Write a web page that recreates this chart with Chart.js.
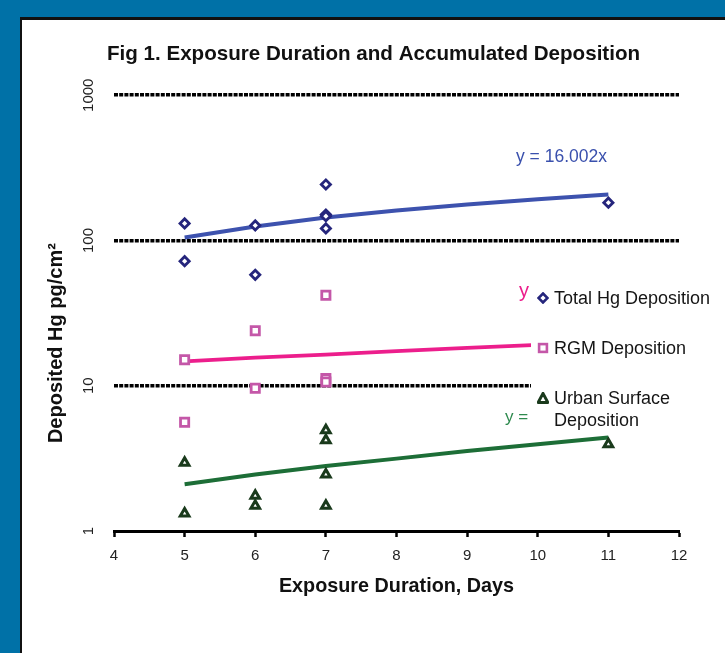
<!DOCTYPE html>
<html>
<head>
<meta charset="utf-8">
<script src="https://cdn.jsdelivr.net/npm/chart.js@4.4.1/dist/chart.umd.min.js"></script>
<style>
html,body{margin:0;padding:0;width:725px;height:653px;overflow:hidden;background:#0071a7;font-family:"Liberation Sans",Arial,sans-serif;}
#panel{position:absolute;left:20px;top:17px;width:705px;height:636px;background:#fff;border-left:2px solid #111;border-top:3px solid #111;box-sizing:border-box;}
#c{position:absolute;left:0;top:0;}
.eq{position:absolute;white-space:nowrap;line-height:1;font-family:"Liberation Sans",Arial,sans-serif;}
#legend{position:absolute;left:531px;top:283px;width:192px;height:150px;background:#fff;}
.item{position:absolute;left:0;width:192px;font-size:18px;line-height:22px;color:#151515;}
.item svg{position:absolute;left:6px;top:5px;}
.item span{position:absolute;left:23px;top:0;white-space:nowrap;}
</style>
</head>
<body>
<div id="panel"></div>
<canvas id="c" width="725" height="653"></canvas>
<div class="eq" style="left:516px;top:148px;font-size:17.5px;color:#3a50ad;">y = 16.002x</div>
<div class="eq" style="left:519px;top:280px;font-size:20px;color:#ec1e8c;">y</div>
<div class="eq" style="left:505px;top:408px;font-size:17px;color:#2e8a4e;">y =</div>
<div id="legend"></div>
<script>
// ---- data ----
const titleText = "Fig 1. Exposure Duration and Accumulated Deposition";
const xTitle = "Exposure Duration, Days";
const yTitle = "Deposited Hg pg/cm\u00B2";
const xTickMin = 4;
const xTickMax = 12;
const yTickValues = [1, 10, 100, 1000];

const totalX = [5, 5, 6, 6, 7, 7, 7, 7, 11];
const totalY = [131, 72, 127, 58, 243, 151, 147, 121, 182];

const rgmX = [5, 5, 6, 6, 7, 7, 7];
const rgmY = [15.1, 5.6, 23.9, 9.6, 42, 11.2, 10.6];

const urbanX = [5, 5, 6, 6, 7, 7, 7, 7, 11];
const urbanY = [2.95, 1.32, 1.75, 1.49, 4.94, 4.22, 2.45, 1.49, 3.96];

const trendX = [5, 6, 7, 8, 9, 10, 11];
const totalTrend = [105, 125, 144, 161, 177, 192, 207];
const rgmTrend = [14.7, 15.6, 16.4, 17.3, 18.2, 19.1, 20.1];
const urbanTrend = [2.1, 2.45, 2.8, 3.15, 3.55, 3.95, 4.4];

const seriesNames = ["Total Hg Deposition", "RGM Deposition", "Urban Surface\nDeposition"];

// ---- colours ----
const navy = "#25257c", blueLine = "#3d52ae";
const pinkMark = "#c457a8", pinkLine = "#ec1e8c";
const greenMark = "#1a3a1c", greenLine = "#1d6e37";

function pts(xs, ys) { return xs.map((x, i) => ({x: x, y: ys[i]})); }

const titleFont = "'Liberation Sans',Arial,sans-serif";
const tickFont = "'Liberation Sans',Arial,sans-serif";

const yTitlePlugin = {
  id: 'yTitlePlugin',
  afterDraw(chart) {
    const {ctx, chartArea} = chart;
    ctx.save();
    ctx.font = "bold 20px " + titleFont;
    ctx.fillStyle = "#111";
    ctx.textAlign = "center";
    ctx.textBaseline = "middle";
    ctx.translate(chartArea.left - 58, (chartArea.top + chartArea.bottom) / 2 + 30);
    ctx.rotate(-Math.PI / 2);
    ctx.fillText(yTitle, 0, 0);
    ctx.restore();
  }
};

const chart = new Chart(document.getElementById('c'), {
  type: 'scatter',
  data: {
    datasets: [
      {label: seriesNames[0], data: pts(totalX, totalY), pointStyle: 'rectRot', pointRadius: 4.6,
       borderColor: navy, backgroundColor: '#fff', pointBorderWidth: 2.8, order: 0, legendMarker: 'diamond'},
      {label: seriesNames[1], data: pts(rgmX, rgmY), pointStyle: 'rect', pointRadius: 5.8,
       borderColor: pinkMark, backgroundColor: '#fff', pointBorderWidth: 2.8, order: 0, legendMarker: 'square'},
      {label: seriesNames[2], data: pts(urbanX, urbanY), pointStyle: 'triangle', pointRadius: 5,
       borderColor: greenMark, backgroundColor: '#fff', pointBorderWidth: 3, order: 0, legendMarker: 'triangle'},
      {label: 'Total trend', data: pts(trendX, totalTrend), showLine: true, pointRadius: 0,
       borderColor: blueLine, borderWidth: 4, order: 1},
      {label: 'RGM trend', data: pts(trendX, rgmTrend), showLine: true, pointRadius: 0,
       borderColor: pinkLine, borderWidth: 3.8, order: 1},
      {label: 'Urban trend', data: pts(trendX, urbanTrend), showLine: true, pointRadius: 0,
       borderColor: greenLine, borderWidth: 4, order: 1}
    ]
  },
  options: {
    responsive: false,
    animation: false,
    events: [],
    layout: {padding: {left: 22, top: 20, right: 0, bottom: 52}},
    plugins: {
      legend: {display: false},
      tooltip: {enabled: false},
      title: {
        display: true, text: titleText, color: "#111",
        font: {family: titleFont, size: 20.6, weight: 'bold', lineHeight: 1.2},
        padding: {top: 22, bottom: 28.5}
      }
    },
    scales: {
      x: {
        type: 'linear', min: xTickMin, max: xTickMax,
        ticks: {stepSize: 1, color: '#222', font: {family: tickFont, size: 15}, padding: 10},
        grid: {drawOnChartArea: false, drawTicks: true, tickLength: 6, tickWidth: 2.5, tickColor: '#000'},
        border: {display: true, color: '#000', width: 3},
        title: {display: true, text: xTitle, color: '#111',
                font: {family: titleFont, size: 19.8, weight: 'bold', lineHeight: 1.2}, padding: {top: 0, bottom: 3}},
        afterFit: s => { s.height = 70; }
      },
      y: {
        type: 'logarithmic', min: 1, max: 1000, position: 'left',
        afterBuildTicks: s => { s.ticks = yTickValues.map(v => ({value: v})); },
        ticks: {minRotation: 90, maxRotation: 90, crossAlign: 'center', padding: 8, color: '#222',
                font: {family: tickFont, size: 15},
                callback: v => String(v)},
        grid: {drawTicks: false, lineWidth: 3.5,
               color: c => (c.tick && c.tick.value === 1) ? 'rgba(0,0,0,0)' : '#000'},
        border: {display: false, dash: [4, 1.2]},
        afterFit: s => { s.width = 92; }
      },
      yR: {
        type: 'linear', position: 'right', display: true,
        ticks: {display: false}, grid: {display: false}, border: {display: false},
        afterFit: s => { s.width = 46; }
      }
    }
  },
  plugins: [yTitlePlugin]
});

// ---- HTML legend built from the chart's datasets ----
const svgMarks = {
  diamond: `<svg width="12" height="12"><polygon points="6,1.5 10.5,6 6,10.5 1.5,6" fill="#fff" stroke="${navy}" stroke-width="2.6"/></svg>`,
  square: `<svg width="12" height="12"><rect x="2.1" y="2.1" width="7.8" height="7.8" fill="#fff" stroke="${pinkMark}" stroke-width="2.6"/></svg>`,
  triangle: `<svg width="12" height="12"><polygon points="6,1.4 10.8,10.4 1.2,10.4" fill="#fff" stroke="${greenMark}" stroke-width="3" stroke-linejoin="round"/></svg>`
};
const legendEl = document.getElementById('legend');
const itemTops = [4, 54, 104];
chart.data.datasets.filter(d => d.legendMarker).forEach((d, i) => {
  const div = document.createElement('div');
  div.className = 'item';
  div.style.top = itemTops[i] + 'px';
  div.innerHTML = svgMarks[d.legendMarker] + '<span>' + d.label.replace('\n', '<br>') + '</span>';
  legendEl.appendChild(div);
});
</script>
</body>
</html>
